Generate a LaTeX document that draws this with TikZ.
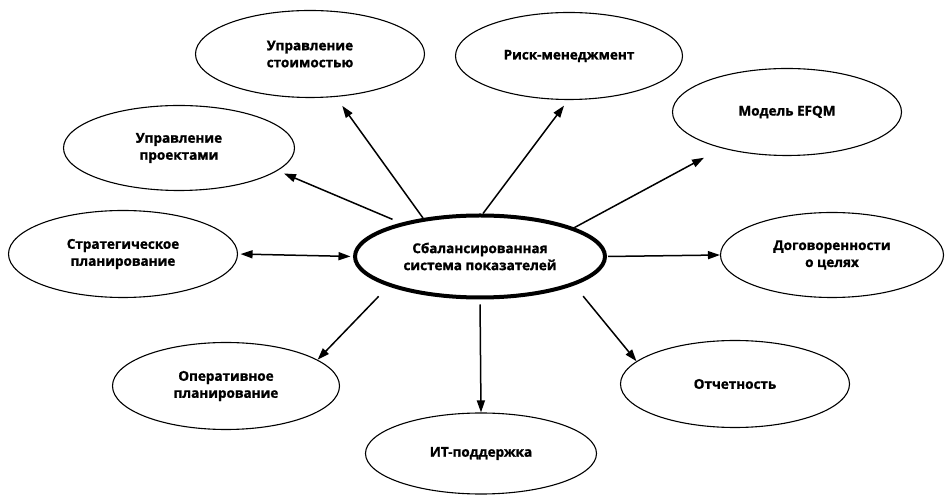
\documentclass[tikz,border=0pt]{standalone}
\usepackage{fontspec}
\setmainfont{Open Sans}[BoldFeatures={FakeBold=1.3}]
\usetikzlibrary{arrows.meta,shapes.geometric}
\begin{document}
\begin{tikzpicture}[x=1pt,y=1pt,
  txt/.style={align=center, font=\bfseries\fontsize{13.5}{17}\selectfont},
  bub/.style={ellipse, draw, line width=1.1pt, inner sep=0pt, minimum width=229pt, minimum height=87pt, txt},
  hub/.style={ellipse, draw, line width=4pt, inner sep=0pt, minimum width=250pt, minimum height=82pt, txt},
  arr/.style={line width=1.5pt, -{Triangle[length=12pt,width=8pt]}},
  dbl/.style={line width=1.5pt, {Triangle[length=12pt,width=8pt]}-{Triangle[length=12pt,width=8pt]}},
]
\useasboundingbox (0,0) rectangle (947,495);
\node[hub] (c) at (480,238.5) {Сбалансированная\\система показателей};
\node[bub] (cost) at (310,441) {Управление\\стоимостью};
\node[bub, minimum width=227pt] (risk) at (569,439) {Риск-менеджмент};
\node[bub] (efqm) at (787,383) {Модель EFQM};
\node[bub, minimum width=231pt, minimum height=85pt] (proj) at (179,347) {Управление\\проектами};
\node[bub] (strat) at (123,241) {Стратегическое\\планирование};
\node[bub, minimum width=223pt, minimum height=85pt] (dogov) at (832,240) {Договоренности\\о целях};
\node[bub, minimum width=227pt] (oper) at (226,109) {Оперативное\\планирование};
\node[bub] (otch) at (735,111) {Отчетность};
\node[bub, minimum width=231pt, minimum height=81pt] (it) at (481,41.5) {ИТ-поддержка};
\draw[arr, shorten >=11pt] (c.146) -- (cost.-59);
\draw[arr, shorten >=7pt] (c.86) -- (risk.-91);
\draw[arr, shorten >=20pt] (c.17) -- (efqm.209);
\draw[arr, shorten <=9pt, shorten >=7pt] (c.157) -- (proj.-13.5);
\draw[dbl, shorten <=2.5pt, shorten >=2.5pt] (strat.east) -- (c.west);
\draw[arr, shorten <=1pt] (c.east) -- (dogov.west);
\draw[arr, shorten <=14pt] (c.198) -- (oper.16);
\draw[arr, shorten <=14pt] (c.-17.7) -- (otch.167);
\draw[arr, shorten <=5pt] (c.south) -- (it.north);
\end{tikzpicture}
\end{document}
